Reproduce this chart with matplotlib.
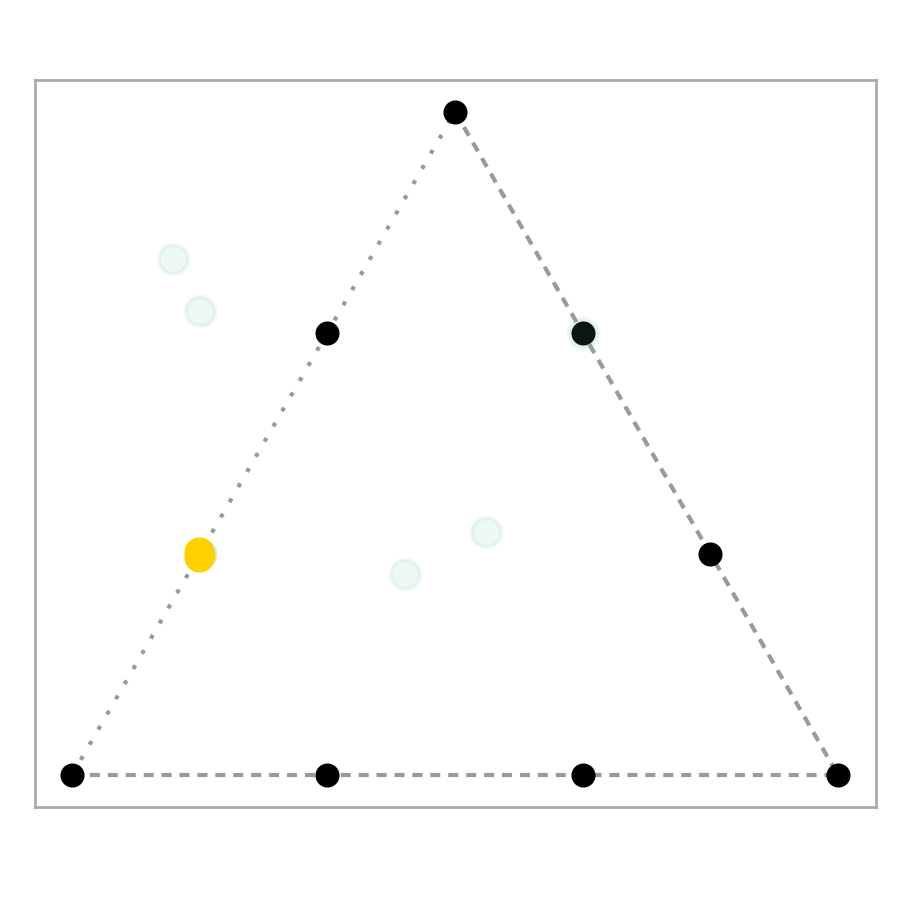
import numpy as np
import matplotlib
matplotlib.use("Agg")
import matplotlib.pyplot as plt

h = np.sqrt(3) / 2

# Triangle vertices and edge tick points (ternary grid)
corner_x = [0.0, 1.0, 0.5]
corner_y = [0.0, 0.0, h]
tick_x = [1/3, 2/3, 1/6, 1/3, 5/6, 2/3]
tick_y = [0.0, 0.0, h/3, 2*h/3, h/3, 2*h/3]

# Faint green observations
obs_x = [0.132, 0.167, 0.435, 0.540, 0.667, 0.170]
obs_y = [0.674, 0.606, 0.262, 0.317, 0.577, 0.288]

# Highlighted (yellow) observations
hi_x = [0.1655, 0.1670, 0.1660]
hi_y = [0.2905, 0.2870, 0.2845]

fig = plt.figure(figsize=(9, 9), dpi=100)
ax = fig.add_axes([35/900, 1 - 807/900, (876-35)/900, (807-80)/900])

line_kw = dict(color="#9a9a9a", lw=3, zorder=1)
ax.plot([corner_x[0], corner_x[2]], [corner_y[0], corner_y[2]],
        linestyle=(0, (1.0, 3.2)), **line_kw)
ax.plot([corner_x[2], corner_x[1]], [corner_y[2], corner_y[1]],
        linestyle=(0, (2.4, 1.9)), **line_kw)
ax.plot([corner_x[0], corner_x[1]], [corner_y[0], corner_y[1]],
        linestyle=(0, (2.4, 1.9)), **line_kw)

allx = corner_x + tick_x
ally = corner_y + tick_y
ax.scatter(allx, ally, s=300, color="black", zorder=3, linewidths=0)

ax.scatter(obs_x[5:], obs_y[5:], s=460, color="#66c2a5", alpha=0.3, zorder=3.5,
           linewidths=0)
ax.scatter(hi_x, hi_y, s=470, color="#ffd000", alpha=1.0, zorder=4, linewidths=0)
ax.scatter(obs_x[:5], obs_y[:5], s=440, color="#66c2a5", alpha=0.11, zorder=5,
           edgecolors="#66c2a5", linewidths=3)

ax.set_xlim(-0.0483, 1.0496)
ax.set_ylim(-0.0418, 0.9073)
ax.set_xticks([])
ax.set_yticks([])
for s in ax.spines.values():
    s.set_color("#aaaaaa")
    s.set_linewidth(2)

fig.savefig("out.png", dpi=100)
